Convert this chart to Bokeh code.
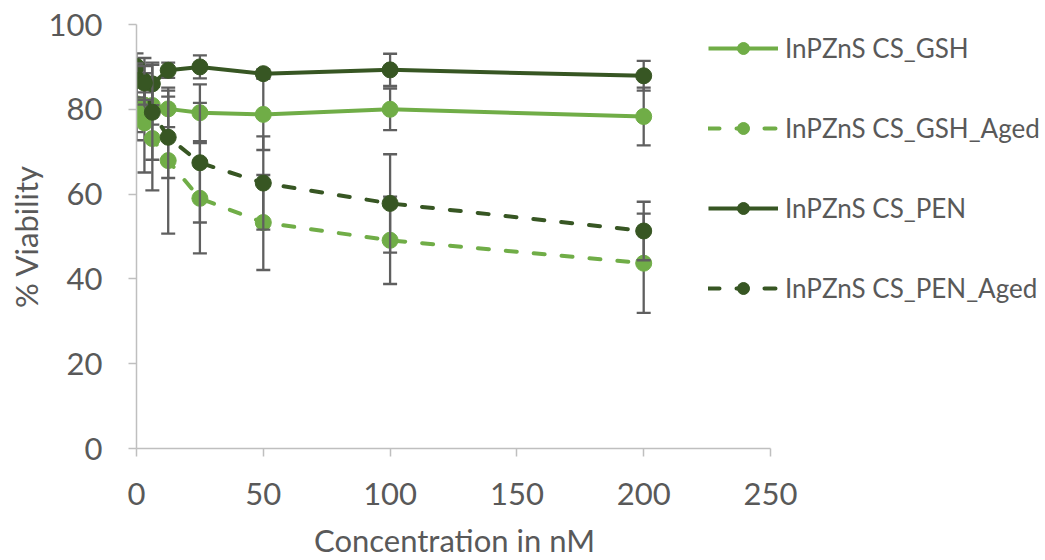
from bokeh.plotting import figure
from bokeh.models import Range1d, Legend, LegendItem, FixedTicker, Title
from bokeh.embed import file_html
from bokeh.resources import INLINE

# ---- data ----
conc = [0, 3.125, 6.25, 12.5, 25, 50, 100, 200]

gsh = [81.3, 81.0, 80.9, 80.1, 79.2, 78.8, 80.0, 78.3]
gsh_err = [6.7, 3.0, 4.5, 4.3, 6.7, 8.4, 4.9, 6.8]

gsh_aged = [79.5, 76.8, 73.1, 67.9, 59.0, 53.3, 49.1, 43.7]
gsh_aged_err = [6.8, 11.7, 12.2, 17.2, 13.0, 11.2, 10.3, 11.7]

pen = [90.1, 86.6, 86.0, 89.2, 90.0, 88.4, 89.3, 87.9]
pen_err = [3.1, 5.5, 5.0, 1.8, 2.7, 1.0, 3.8, 3.5]

pen_aged = [86.8, 86.2, 79.3, 73.4, 67.4, 62.6, 57.8, 51.3]
pen_aged_err = [4.0, 4.0, 11.2, 9.6, 14.1, 11.0, 11.6, 6.9]

series_names = ["InPZnS CS_GSH", "InPZnS CS_GSH_Aged", "InPZnS CS_PEN", "InPZnS CS_PEN_Aged"]
x_ticks = [0, 50, 100, 150, 200, 250]
y_ticks = [0, 20, 40, 60, 80, 100]
x_axis_max = 250
x_title = "Concentration in nM"
y_title = "% Viability"

LIGHT = "#70AD47"
DARK = "#375623"
ERR = "#5f5f5f"
FONT = "Lato"
TXT = "#595959"

W, H = 1045, 560
F_LEFT, F_TOP, F_BOTTOM = 136, 24, 448
AXIS_END_PX = 770  # pixel where x = 250 ends
frame_w = W - F_LEFT
x_end = x_axis_max * frame_w / (AXIS_END_PX - F_LEFT)

p = figure(width=W, height=H, output_backend="svg", toolbar_location=None,
           x_range=Range1d(0, x_end), y_range=Range1d(0, 100),
           min_border_left=F_LEFT, min_border_right=0,
           min_border_top=F_TOP, min_border_bottom=H - F_BOTTOM)
p.outline_line_color = None
p.xgrid.visible = False
p.ygrid.visible = False
p.background_fill_color = "white"
p.border_fill_color = "white"

for ax in (p.xaxis[0], p.yaxis[0]):
    ax.major_label_text_font = FONT
    ax.major_label_text_color = TXT
    ax.major_label_text_font_size = "31px"
    ax.axis_label_text_font = FONT
    ax.axis_label_text_color = TXT
    ax.axis_label_text_font_size = "31px"
    ax.axis_label_text_font_style = "normal"
    ax.axis_line_color = "#bfbfbf"
    ax.axis_line_width = 1.5
    ax.major_tick_line_color = "#bfbfbf"
    ax.major_tick_line_width = 1.5
    ax.major_tick_in = 0
    ax.major_tick_out = 8
    ax.minor_tick_line_color = None

p.xaxis[0].ticker = FixedTicker(ticks=x_ticks)
p.xaxis[0].bounds = (0, x_axis_max)
p.xaxis[0].major_label_standoff = 26
# invisible spacer label: pushes the title panel lower without moving tick labels
p.xaxis[0].axis_label = " "
p.xaxis[0].axis_label_text_font_size = "1px"
p.xaxis[0].axis_label_standoff = 11

p.yaxis[0].ticker = FixedTicker(ticks=y_ticks)
p.yaxis[0].axis_label = y_title
p.yaxis[0].major_label_standoff = 26
p.yaxis[0].axis_label_standoff = 1

# x-axis title centred under the 0..250 axis span (not the wider frame)
title_w = 279
axis_center = (AXIS_END_PX - F_LEFT) / 2
xt = Title(text=x_title, align="left", offset=axis_center - title_w / 2,
           text_font=FONT, text_font_size="31px", text_font_style="normal",
           text_color=TXT, standoff=-8, vertical_align="bottom")
p.add_layout(xt, "below")

specs = [
    (gsh, gsh_err, LIGHT),
    (gsh_aged, gsh_aged_err, LIGHT),
    (pen, pen_err, DARK),
    (pen_aged, pen_aged_err, DARK),
]
solid = [True, False, True, False]

items = []
for name, (vals, errs, col), is_solid in zip(series_names, specs, solid):
    lo = [v - e for v, e in zip(vals, errs)]
    hi = [v + e for v, e in zip(vals, errs)]
    ln = p.line(conc, vals, line_color=col, line_width=4,
                line_dash="solid" if is_solid else "11 17",
                line_cap="butt" if is_solid else "round", line_join="round")
    p.segment(conc, lo, conc, hi, line_color=ERR, line_width=2.3)
    p.scatter(conc, lo, marker="dash", size=14, line_color=ERR, line_width=2.3)
    p.scatter(conc, hi, marker="dash", size=14, line_color=ERR, line_width=2.3)
    mk = p.scatter(conc, vals, marker="circle", size=16, fill_color=col, line_color=col)
    items.append(LegendItem(label=name, renderers=[ln, mk]))

legend = Legend(items=items, location=(708 - F_LEFT, 144), orientation="vertical",
                glyph_width=70, glyph_height=30, label_height=30,
                spacing=48, label_standoff=7, padding=0, margin=0,
                border_line_color=None, background_fill_alpha=0,
                label_text_font=FONT, label_text_font_size="26px",
                label_text_color=TXT)
p.add_layout(legend, "center")

open("out.html", "w").write(file_html(p, INLINE))
